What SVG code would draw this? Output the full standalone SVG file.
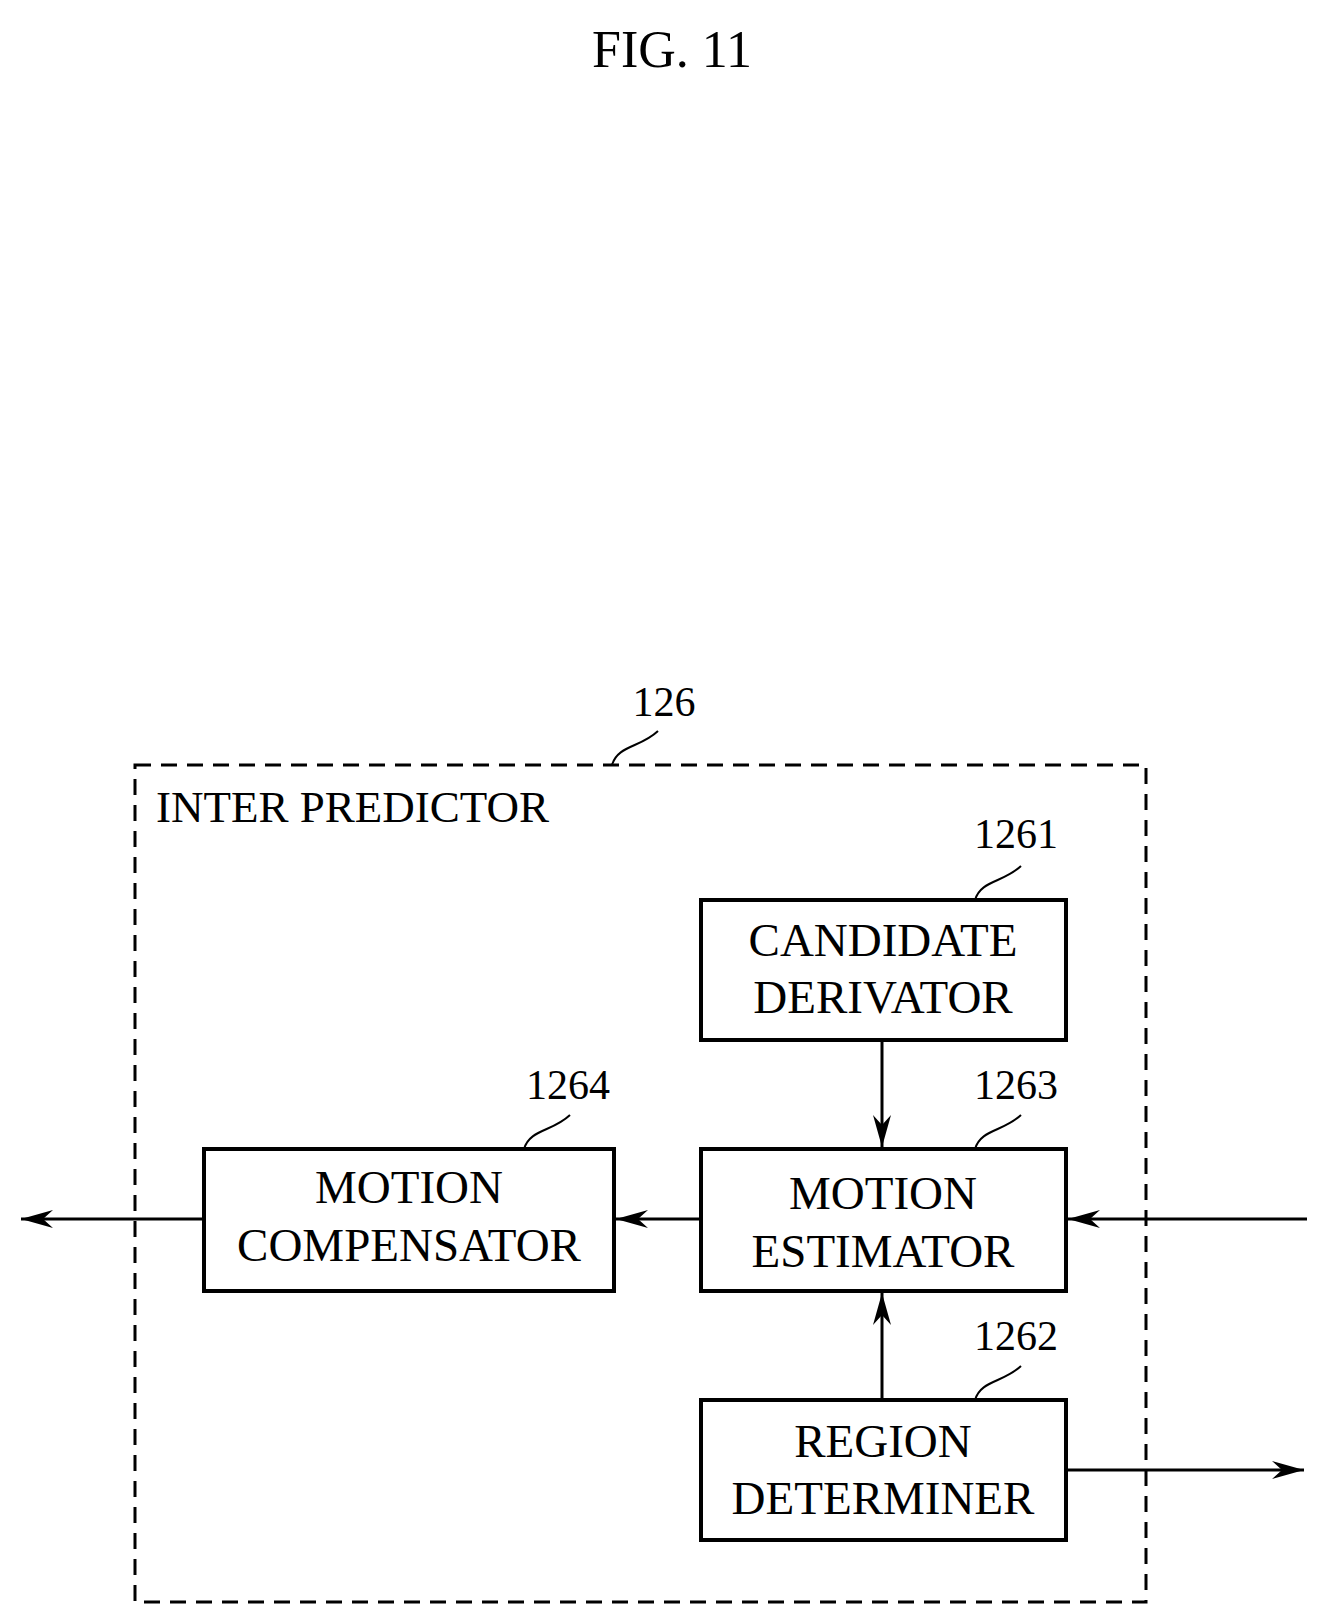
<svg xmlns="http://www.w3.org/2000/svg" width="1327" height="1623" viewBox="0 0 1327 1623">
<style>
text{font-family:"Liberation Serif","DejaVu Serif",serif;fill:#000}
.lbl{font-size:47px;text-anchor:middle}
.num{font-size:42px;text-anchor:middle}
.box{fill:#fff;stroke:#000;stroke-width:4}
.ln{stroke:#000;stroke-width:3;fill:none}
.ld{stroke:#000;stroke-width:2;fill:none}
</style>
<defs>
<marker id="ah" markerWidth="34" markerHeight="20" refX="32" refY="10" orient="auto" markerUnits="userSpaceOnUse">
<path d="M0,1 L32,10 L0,19 L10,10 Z" fill="#000"/>
</marker>
</defs>
<rect width="1327" height="1623" fill="#fff"/>
<text x="672" y="67" font-size="52" text-anchor="middle">FIG. 11</text>
<g id="inter-predictor">
<rect x="135" y="765" width="1011" height="837" fill="none" stroke="#000" stroke-width="3" stroke-dasharray="16,10"/>
<text x="156" y="822" font-size="45">INTER PREDICTOR</text>
<text class="num" x="664" y="716">126</text>
<path class="ld" d="M612,765 C618,745 640,748 658,731"/>
</g>
<g id="connectors">
<line class="ln" x1="882" y1="1040" x2="882" y2="1147" marker-end="url(#ah)"/>
<line class="ln" x1="882" y1="1400" x2="882" y2="1293" marker-end="url(#ah)"/>
<line class="ln" x1="701" y1="1219" x2="616" y2="1219" marker-end="url(#ah)"/>
<line class="ln" x1="204" y1="1219" x2="21" y2="1219" marker-end="url(#ah)"/>
<line class="ln" x1="1307" y1="1219" x2="1068" y2="1219" marker-end="url(#ah)"/>
<line class="ln" x1="1066" y1="1470" x2="1304" y2="1470" marker-end="url(#ah)"/>
</g>
<g id="candidate-derivator">
<rect class="box" x="701" y="900" width="365" height="140"/>
<text class="lbl" x="883" y="956">CANDIDATE</text>
<text class="lbl" x="883" y="1013">DERIVATOR</text>
<text class="num" x="1016" y="848">1261</text>
<path class="ld" d="M975,900 C981,880 1003,883 1021,866"/>
</g>
<g id="motion-estimator">
<rect class="box" x="701" y="1149" width="365" height="142"/>
<text class="lbl" x="883" y="1209">MOTION</text>
<text class="lbl" x="883" y="1267">ESTIMATOR</text>
<text class="num" x="1016" y="1099">1263</text>
<path class="ld" d="M975,1149 C981,1129 1003,1132 1021,1115"/>
</g>
<g id="motion-compensator">
<rect class="box" x="204" y="1149" width="410" height="142"/>
<text class="lbl" x="409" y="1203">MOTION</text>
<text class="lbl" x="409" y="1261">COMPENSATOR</text>
<text class="num" x="568" y="1099">1264</text>
<path class="ld" d="M524,1149 C530,1129 552,1132 570,1115"/>
</g>
<g id="region-determiner">
<rect class="box" x="701" y="1400" width="365" height="140"/>
<text class="lbl" x="883" y="1457">REGION</text>
<text class="lbl" x="883" y="1514">DETERMINER</text>
<text class="num" x="1016" y="1350">1262</text>
<path class="ld" d="M975,1400 C981,1380 1003,1383 1021,1366"/>
</g>
</svg>
